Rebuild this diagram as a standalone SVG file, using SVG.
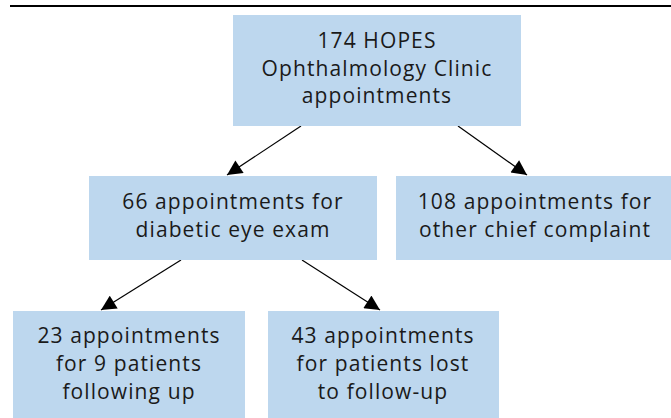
<svg xmlns="http://www.w3.org/2000/svg" width="671" height="418" viewBox="0 0 671 418">
<style>
.box{fill:#BDD7EE;}
.t{font-family:"Open Sans","Liberation Sans",sans-serif;font-size:21px;letter-spacing:1.1px;fill:#1a1a1a;text-anchor:middle;}
.c{stroke:#000;stroke-width:1.2;fill:none;marker-end:url(#ah);}
</style>
<defs>
<marker id="ah" viewBox="0 0 10 10" refX="10" refY="5" markerWidth="16" markerHeight="15" markerUnits="userSpaceOnUse" orient="auto">
<path d="M0,0 L10,5 L0,10 z" fill="#000"/>
</marker>
</defs>
<line x1="10" y1="6" x2="671" y2="6" stroke="#000" stroke-width="2"/>
<g id="connectors">
<line class="c" x1="301" y1="126" x2="227" y2="175"/>
<line class="c" x1="458" y1="126" x2="527" y2="175"/>
<line class="c" x1="181" y1="260" x2="101" y2="310"/>
<line class="c" x1="302" y1="260" x2="380" y2="310"/>
</g>
<g id="n1">
<rect class="box" x="233" y="15" width="288" height="111"/>
<text class="t" x="377" y="48">174 HOPES</text>
<text class="t" x="377" y="76">Ophthalmology Clinic</text>
<text class="t" x="377" y="103">appointments</text>
</g>
<g id="n2">
<rect class="box" x="89" y="176" width="288" height="84"/>
<text class="t" x="233" y="209">66 appointments for</text>
<text class="t" x="233" y="237">diabetic eye exam</text>
</g>
<g id="n3">
<rect class="box" x="396" y="176" width="275" height="84"/>
<text class="t" x="535" y="209">108 appointments for</text>
<text class="t" x="535" y="237">other chief complaint</text>
</g>
<g id="n4">
<rect class="box" x="13" y="311" width="232" height="107"/>
<text class="t" x="129" y="343">23 appointments</text>
<text class="t" x="129" y="371">for 9 patients</text>
<text class="t" x="129" y="399">following up</text>
</g>
<g id="n5">
<rect class="box" x="268" y="311" width="231" height="107"/>
<text class="t" x="383" y="343">43 appointments</text>
<text class="t" x="383" y="371">for patients lost</text>
<text class="t" x="383" y="399">to follow-up</text>
</g>
</svg>
